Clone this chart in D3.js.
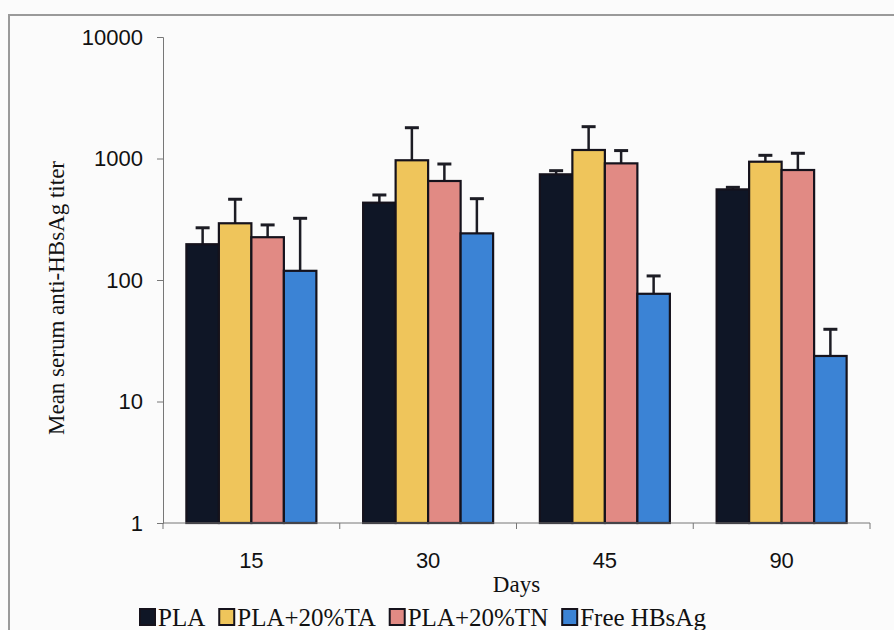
<!DOCTYPE html>
<html>
<head>
<meta charset="utf-8">
<script src="https://cdn.jsdelivr.net/npm/d3@7"></script>
<style>
  html, body { margin: 0; padding: 0; background: #fbfbfb; }
  svg { display: block; }
</style>
</head>
<body>
<svg id="chart" width="894" height="630"></svg>
<script>
// Days after immunisation
const days = ["15", "30", "45", "90"];
// Formulations
const series = ["PLA", "PLA+20%TA", "PLA+20%TN", "Free HBsAg"];
const colors = ["#0f1626", "#efc55b", "#e18a84", "#3b83d5"];
// Mean titres, one array per formulation (ordered by day)
const meanPLA  = [197, 433, 741, 557];
const meanTA   = [293, 967, 1175, 941];
const meanTN   = [225, 653, 912, 804];
const meanFree = [119, 242, 77, 23.7];
// Upper end of the error bars (mean + SD)
const upperPLA  = [269, 501, 794, 579];
const upperTA   = [462, 1792, 1828, 1062];
const upperTN   = [284, 901, 1162, 1104];
const upperFree = [322, 467, 108, 39.3];
// Log axis tick values
const yTicks = [1, 10, 100, 1000, 10000];

const means = [meanPLA, meanTA, meanTN, meanFree];
const uppers = [upperPLA, upperTA, upperTN, upperFree];

const svg = d3.select("#chart");

// outer frame
svg.append("path")
  .attr("d", "M9,640 L9,15 L900,15")
  .attr("fill", "none").attr("stroke", "#9a9a9a").attr("stroke-width", 2);

const x0 = 163, x1 = 870, yTop = 37, yBot = 523;

const x = d3.scaleBand().domain(days).range([x0, x1]).paddingInner(0).paddingOuter(0);
const xs = d3.scaleBand().domain(series).range([0, 130]);
const y = d3.scaleLog().domain([1, 10000]).range([yBot, yTop]);

const groupOffset = (x.bandwidth() - 130) / 2;

// bars
const g = svg.append("g");
series.forEach((s, si) => {
  days.forEach((d, di) => {
    const bx = x(d) + groupOffset + xs(s);
    const bw = xs.bandwidth();
    const cx = bx + bw / 2;
    // error bar (upper only)
    g.append("line")
      .attr("x1", cx).attr("x2", cx)
      .attr("y1", y(means[si][di])).attr("y2", y(uppers[si][di]))
      .attr("stroke", "#1c1c24").attr("stroke-width", 2.5);
    g.append("line")
      .attr("x1", cx - 7).attr("x2", cx + 7)
      .attr("y1", y(uppers[si][di])).attr("y2", y(uppers[si][di]))
      .attr("stroke", "#1c1c24").attr("stroke-width", 3);
    g.append("rect")
      .attr("x", bx).attr("width", bw)
      .attr("y", y(means[si][di]))
      .attr("height", y(1) - y(means[si][di]))
      .attr("fill", colors[si])
      .attr("stroke", "#15121c").attr("stroke-width", 2.2);
  });
});

// y axis
const yAxis = d3.axisLeft(y).tickValues(yTicks).tickFormat(d3.format("d")).tickSize(6).tickPadding(14);
const ya = svg.append("g").attr("transform", `translate(${x0},0)`).call(yAxis);
ya.select(".domain").attr("stroke", "#777").attr("stroke-width", 1);
ya.selectAll(".tick line").attr("stroke", "#777");
ya.selectAll("text").attr("font-family", "Liberation Sans, Arial, sans-serif")
  .attr("font-size", 22).attr("fill", "#111");

// x axis with ticks on category boundaries
const xa = svg.append("g").attr("transform", `translate(0,${yBot})`);
xa.append("line").attr("x1", x0).attr("x2", x1).attr("y1", 0).attr("y2", 0)
  .attr("stroke", "#777").attr("stroke-width", 1);
const bounds = days.map(d => x(d)).concat([x1]);
xa.selectAll(".bt").data(bounds).join("line")
  .attr("x1", d => d).attr("x2", d => d).attr("y1", 0).attr("y2", 6)
  .attr("stroke", "#777");
xa.selectAll(".lbl").data(days).join("text")
  .attr("x", d => x(d) + x.bandwidth() / 2).attr("y", 45)
  .attr("text-anchor", "middle")
  .attr("font-family", "Liberation Sans, Arial, sans-serif")
  .attr("font-size", 22).attr("fill", "#111")
  .text(d => d);

// axis titles
svg.append("text")
  .attr("x", (x0 + x1) / 2).attr("y", 592)
  .attr("text-anchor", "middle")
  .attr("font-family", "Liberation Serif, Times New Roman, serif")
  .attr("font-size", 23).attr("fill", "#111")
  .text("Days");

svg.append("text")
  .attr("transform", `translate(64,298) rotate(-90)`)
  .attr("text-anchor", "middle")
  .attr("font-family", "Liberation Serif, Times New Roman, serif")
  .attr("font-size", 23).attr("fill", "#111")
  .text("Mean serum anti-HBsAg titer");

// legend
const legend = svg.append("g").attr("transform", "translate(139,626)");
let lx = 0;
series.forEach((s, i) => {
  legend.append("rect")
    .attr("x", lx + 1).attr("y", -17).attr("width", 15).attr("height", 16)
    .attr("fill", colors[i]).attr("stroke", "#15121c").attr("stroke-width", 2);
  const t = legend.append("text")
    .attr("x", lx + 19).attr("y", 0)
    .attr("font-family", "Liberation Serif, Times New Roman, serif")
    .attr("font-size", 25).attr("fill", "#111")
    .text(s);
  lx += 19 + t.node().getComputedTextLength() + 13;
});
</script>
</body>
</html>
